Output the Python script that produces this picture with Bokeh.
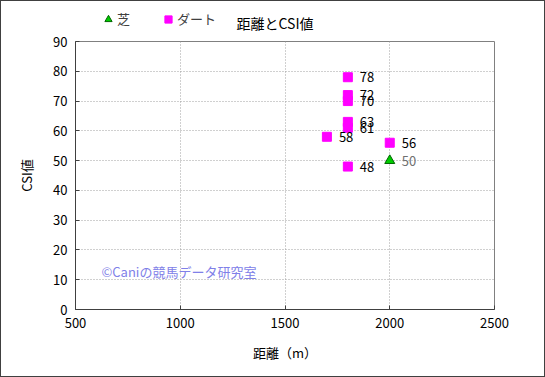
from bokeh.plotting import figure
from bokeh.layouts import column
from bokeh.models import ColumnDataSource, Label, Legend, LegendItem, FixedTicker
from bokeh.core.properties import value
from bokeh.embed import file_html
from bokeh.resources import INLINE

# data
dirt_dist = [1800, 1800, 1800, 1800, 1800, 1700, 2000, 1800]
dirt_csi = [78, 72, 70, 63, 61, 58, 56, 48]
turf_dist = [2000]
turf_csi = [50]
x_ticks = [500, 1000, 1500, 2000, 2500]
y_ticks = [0, 10, 20, 30, 40, 50, 60, 70, 80, 90]
title_text = "距離とCSI値"
series_names = ["芝", "ダート"]

FONT = "Noto Sans CJK JP"
DIRT_STYLE = dict(marker="square", size=9, fill_color="#ff00ff", line_color="#ff00ff")
TURF_STYLE = dict(marker="triangle", size=10, fill_color="#00cc00", line_color="#006600", line_width=1)

# ---------- header (legend + title) ----------
# header ranges are far from the data, so its proxy glyphs stay off-screen
h = figure(width=543, height=32, output_backend="svg", toolbar_location=None,
           x_range=(0, 1), y_range=(0, 1), x_axis_type=None, y_axis_type=None,
           min_border=0)
h.outline_line_color = None
h_turf = h.scatter(x=turf_dist[:1], y=turf_csi[:1], **TURF_STYLE)
h_dirt = h.scatter(x=dirt_dist[:1], y=dirt_csi[:1], **DIRT_STYLE)
legend = Legend(items=[LegendItem(label=series_names[0], renderers=[h_turf]),
                       LegendItem(label=series_names[1], renderers=[h_dirt])],
                orientation="horizontal", location=(24, 5),
                label_text_font=FONT, label_text_font_size="13px", label_text_color="#404040",
                glyph_width=18, glyph_height=18, label_standoff=0, spacing=22,
                padding=0, margin=0, border_line_color=None, background_fill_alpha=0)
h.add_layout(legend, "center")
h.add_layout(Label(x=161, y=11, x_units="screen", y_units="screen", text=title_text,
                   text_font=FONT, text_font_size="14px", text_color="black",
                   text_baseline="middle"))

# ---------- main plot ----------
p = figure(width=543, height=343, output_backend="svg", toolbar_location=None,
           x_range=(500, 2500), y_range=(0, 90),
           min_border_left=74, min_border_right=50, min_border_top=8, min_border_bottom=67)

p.outline_line_color = "#808080"
p.outline_line_width = 1

for ax in (p.xaxis[0], p.yaxis[0]):
    ax.axis_line_color = "#404040"
    ax.major_tick_in = 4
    ax.major_tick_out = 0
    ax.minor_tick_line_color = None
    ax.major_tick_line_color = "#404040"
    ax.major_label_text_font = FONT
    ax.major_label_text_font_size = "13px"
    ax.major_label_text_color = "black"
    ax.axis_label_text_font = FONT
    ax.axis_label_text_font_size = "13px"
    ax.axis_label_text_font_style = "normal"
    ax.axis_label_text_color = "black"

p.xaxis.ticker = FixedTicker(ticks=x_ticks)
p.yaxis.ticker = FixedTicker(ticks=y_ticks)
p.xaxis.axis_label = "距離（m）"
p.yaxis.axis_label = "CSI値"
p.xaxis.major_label_standoff = 8
p.xaxis.axis_label_standoff = 12
p.yaxis.major_label_standoff = 8
p.yaxis.axis_label_standoff = 14

p.grid.grid_line_color = "#a0a0a0"
p.grid.grid_line_dash = "1 2"
p.grid.grid_line_width = 1

dirt_src = ColumnDataSource(dict(x=dirt_dist, y=dirt_csi, t=[str(v) for v in dirt_csi]))
turf_src = ColumnDataSource(dict(x=turf_dist, y=turf_csi, t=[str(v) for v in turf_csi]))

p.scatter("x", "y", source=dirt_src, **DIRT_STYLE)
p.scatter("x", "y", source=turf_src, **TURF_STYLE)

p.text("x", "y", text="t", source=dirt_src, x_offset=12, text_baseline="middle",
       text_font=value(FONT), text_font_size="13px", text_color="black")
p.text("x", "y", text="t", source=turf_src, x_offset=12, text_baseline="middle",
       text_font=value(FONT), text_font_size="13px", text_color="#707070")

p.add_layout(Label(x=26, y=38, x_units="screen", y_units="screen",
                   text="©Caniの競馬データ研究室", text_font=FONT, text_font_size="13px",
                   text_color="#8080e8", text_baseline="middle"))

layout = column(h, p, spacing=0)
layout.styles = {"border": "1px solid #404040"}

open("out.html", "w").write(file_html(layout, INLINE))
